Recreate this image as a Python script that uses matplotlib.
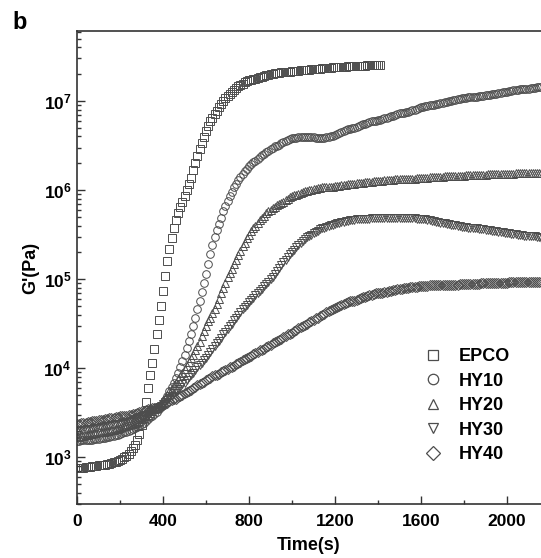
import numpy as np
import matplotlib
matplotlib.use("Agg")
import matplotlib.pyplot as plt
from matplotlib.ticker import LogLocator, FixedLocator, NullFormatter, FuncFormatter
from matplotlib.lines import Line2D

plt.rcParams['font.family'] = ['Liberation Sans', 'DejaVu Sans']
plt.rcParams['mathtext.fontset'] = 'custom'
plt.rcParams['mathtext.rm'] = 'Liberation Sans:bold'
plt.rcParams['mathtext.bf'] = 'Liberation Sans:bold'

# sampling times (s), one point every 10 s
time_epco = list(range(0, 1420, 10))
time_hy = list(range(0, 2170, 10))

# log10 of G' (Pa)
epco_log = [
    2.88, 2.88, 2.88, 2.88, 2.89, 2.89, 2.89, 2.90, 2.90, 2.90, 2.91,
    2.91, 2.92, 2.92, 2.93, 2.93, 2.94, 2.95, 2.95, 2.96, 2.97,
    2.98, 3.00, 3.02, 3.04, 3.07, 3.10, 3.14, 3.19, 3.26, 3.36,
    3.48, 3.62, 3.78, 3.93, 4.06, 4.22, 4.38, 4.54, 4.70, 4.87,
    5.04, 5.20, 5.34, 5.46, 5.57, 5.66, 5.74, 5.81, 5.87, 5.93,
    6.00, 6.07, 6.14, 6.22, 6.30, 6.38, 6.46, 6.53, 6.60, 6.66,
    6.72, 6.77, 6.81, 6.85, 6.89, 6.93, 6.97, 7.00, 7.03, 7.06,
    7.08, 7.10, 7.12, 7.15, 7.17, 7.18, 7.19, 7.21, 7.22, 7.23,
    7.24, 7.25, 7.25, 7.26, 7.27, 7.27, 7.28, 7.29, 7.29, 7.30,
    7.30, 7.31, 7.31, 7.31, 7.32, 7.32, 7.32, 7.33, 7.33, 7.34,
    7.34, 7.34, 7.34, 7.35, 7.35, 7.35, 7.35, 7.35, 7.36, 7.36,
    7.36, 7.36, 7.36, 7.37, 7.37, 7.37, 7.37, 7.37, 7.38, 7.38,
    7.38, 7.38, 7.38, 7.38, 7.38, 7.39, 7.39, 7.39, 7.39, 7.39,
    7.39, 7.39, 7.39, 7.39, 7.40, 7.40, 7.40, 7.40, 7.40, 7.40, 7.40,
]

hy10_log = [
    3.18, 3.18, 3.19, 3.19, 3.19, 3.20, 3.20, 3.20, 3.21, 3.21, 3.21,
    3.22, 3.22, 3.22, 3.23, 3.23, 3.24, 3.24, 3.25, 3.25, 3.26,
    3.27, 3.28, 3.29, 3.30, 3.31, 3.32, 3.33, 3.34, 3.35, 3.37,
    3.39, 3.41, 3.43, 3.45, 3.47, 3.49, 3.51, 3.54, 3.57, 3.60,
    3.64, 3.69, 3.74, 3.79, 3.84, 3.89, 3.95, 4.01, 4.08, 4.15,
    4.23, 4.31, 4.39, 4.48, 4.57, 4.66, 4.76, 4.86, 4.96, 5.06,
    5.17, 5.28, 5.38, 5.47, 5.55, 5.62, 5.69, 5.76, 5.82, 5.88,
    5.93, 5.98, 6.03, 6.07, 6.11, 6.15, 6.18, 6.21, 6.24, 6.27,
    6.29, 6.31, 6.33, 6.35, 6.37, 6.39, 6.41, 6.43, 6.44, 6.46,
    6.47, 6.49, 6.50, 6.51, 6.53, 6.54, 6.55, 6.56, 6.57, 6.58,
    6.59, 6.59, 6.60, 6.60, 6.60, 6.60, 6.60, 6.60, 6.60, 6.60,
    6.59, 6.59, 6.59, 6.59, 6.59, 6.60, 6.60, 6.61, 6.61, 6.62,
    6.63, 6.64, 6.65, 6.66, 6.67, 6.68, 6.69, 6.70, 6.70, 6.71,
    6.72, 6.73, 6.74, 6.74, 6.75, 6.76, 6.77, 6.77, 6.78, 6.79,
    6.79, 6.80, 6.81, 6.81, 6.82, 6.83, 6.83, 6.84, 6.85, 6.86,
    6.86, 6.87, 6.88, 6.88, 6.89, 6.90, 6.90, 6.91, 6.92, 6.93,
    6.93, 6.94, 6.94, 6.95, 6.96, 6.96, 6.97, 6.97, 6.98, 6.98,
    6.99, 6.99, 7.00, 7.00, 7.01, 7.01, 7.02, 7.02, 7.03, 7.03,
    7.03, 7.04, 7.04, 7.05, 7.05, 7.05, 7.06, 7.06, 7.06, 7.07,
    7.07, 7.07, 7.08, 7.08, 7.08, 7.09, 7.09, 7.10, 7.10, 7.10,
    7.11, 7.11, 7.12, 7.12, 7.12, 7.13, 7.13, 7.14, 7.14, 7.14,
    7.15, 7.15, 7.15, 7.16, 7.16, 7.16,
]

hy20_log = [
    3.23, 3.23, 3.24, 3.24, 3.25, 3.25, 3.26, 3.26, 3.27, 3.27, 3.28,
    3.28, 3.29, 3.29, 3.30, 3.30, 3.31, 3.31, 3.32, 3.32, 3.33,
    3.34, 3.35, 3.35, 3.36, 3.37, 3.38, 3.39, 3.40, 3.41, 3.43,
    3.44, 3.46, 3.48, 3.50, 3.52, 3.54, 3.56, 3.58, 3.61, 3.64,
    3.67, 3.70, 3.74, 3.77, 3.81, 3.84, 3.88, 3.91, 3.95, 3.99,
    4.03, 4.07, 4.11, 4.15, 4.20, 4.25, 4.30, 4.36, 4.42, 4.48,
    4.53, 4.57, 4.62, 4.67, 4.72, 4.78, 4.84, 4.90, 4.96, 5.02,
    5.07, 5.12, 5.17, 5.22, 5.27, 5.32, 5.37, 5.41, 5.46, 5.50,
    5.54, 5.57, 5.60, 5.63, 5.66, 5.69, 5.71, 5.74, 5.76, 5.78,
    5.80, 5.81, 5.83, 5.84, 5.86, 5.87, 5.89, 5.90, 5.92, 5.93,
    5.94, 5.95, 5.96, 5.97, 5.98, 5.99, 5.99, 6.00, 6.00, 6.01,
    6.01, 6.02, 6.02, 6.03, 6.03, 6.03, 6.04, 6.04, 6.04, 6.05,
    6.05, 6.05, 6.06, 6.06, 6.06, 6.07, 6.07, 6.07, 6.07, 6.08,
    6.08, 6.08, 6.08, 6.09, 6.09, 6.09, 6.09, 6.10, 6.10, 6.10,
    6.10, 6.10, 6.11, 6.11, 6.11, 6.11, 6.11, 6.12, 6.12, 6.12,
    6.12, 6.12, 6.13, 6.13, 6.13, 6.13, 6.13, 6.14, 6.14, 6.14,
    6.14, 6.14, 6.14, 6.15, 6.15, 6.15, 6.15, 6.15, 6.15, 6.15,
    6.16, 6.16, 6.16, 6.16, 6.16, 6.16, 6.16, 6.16, 6.16, 6.16,
    6.17, 6.17, 6.17, 6.17, 6.17, 6.17, 6.17, 6.17, 6.17, 6.17,
    6.18, 6.18, 6.18, 6.18, 6.18, 6.18, 6.18, 6.18, 6.18, 6.18,
    6.18, 6.18, 6.18, 6.19, 6.19, 6.19, 6.19, 6.19, 6.19, 6.19,
    6.19, 6.19, 6.19, 6.19, 6.19, 6.19,
]

hy30_log = [
    3.30, 3.30, 3.31, 3.31, 3.31, 3.32, 3.32, 3.32, 3.33, 3.33, 3.33,
    3.34, 3.34, 3.35, 3.35, 3.35, 3.36, 3.36, 3.37, 3.37, 3.38,
    3.38, 3.39, 3.40, 3.40, 3.41, 3.42, 3.43, 3.44, 3.45, 3.46,
    3.47, 3.48, 3.49, 3.51, 3.52, 3.53, 3.55, 3.57, 3.58, 3.60,
    3.62, 3.64, 3.67, 3.69, 3.72, 3.74, 3.77, 3.79, 3.82, 3.84,
    3.87, 3.90, 3.92, 3.95, 3.98, 4.01, 4.04, 4.06, 4.09, 4.12,
    4.15, 4.18, 4.22, 4.25, 4.28, 4.31, 4.34, 4.38, 4.41, 4.44,
    4.47, 4.50, 4.54, 4.57, 4.60, 4.63, 4.66, 4.69, 4.71, 4.74,
    4.77, 4.79, 4.82, 4.84, 4.87, 4.89, 4.92, 4.95, 4.97, 5.00,
    5.03, 5.06, 5.09, 5.13, 5.16, 5.19, 5.22, 5.25, 5.28, 5.31,
    5.33, 5.36, 5.38, 5.41, 5.43, 5.45, 5.47, 5.49, 5.50, 5.52,
    5.53, 5.54, 5.56, 5.57, 5.58, 5.59, 5.60, 5.61, 5.61, 5.62,
    5.63, 5.63, 5.64, 5.64, 5.65, 5.65, 5.66, 5.66, 5.66, 5.67,
    5.67, 5.67, 5.68, 5.68, 5.68, 5.68, 5.69, 5.69, 5.69, 5.69,
    5.69, 5.69, 5.69, 5.69, 5.69, 5.69, 5.69, 5.69, 5.69, 5.69,
    5.69, 5.69, 5.69, 5.69, 5.69, 5.69, 5.69, 5.68, 5.68, 5.68,
    5.67, 5.67, 5.66, 5.66, 5.65, 5.65, 5.64, 5.64, 5.63, 5.63,
    5.63, 5.62, 5.62, 5.61, 5.61, 5.61, 5.60, 5.60, 5.59, 5.59,
    5.59, 5.58, 5.58, 5.58, 5.57, 5.57, 5.56, 5.56, 5.56, 5.55,
    5.55, 5.55, 5.54, 5.54, 5.54, 5.53, 5.53, 5.53, 5.52, 5.52,
    5.52, 5.51, 5.51, 5.51, 5.50, 5.50, 5.50, 5.49, 5.49, 5.49,
    5.48, 5.48, 5.48, 5.47, 5.47, 5.46,
]

hy40_log = [
    3.38, 3.38, 3.39, 3.39, 3.39, 3.40, 3.40, 3.41, 3.41, 3.41, 3.42,
    3.42, 3.42, 3.43, 3.43, 3.44, 3.44, 3.44, 3.45, 3.45, 3.46,
    3.46, 3.47, 3.47, 3.48, 3.48, 3.49, 3.49, 3.50, 3.51, 3.52,
    3.52, 3.53, 3.54, 3.54, 3.55, 3.56, 3.56, 3.57, 3.58, 3.59,
    3.60, 3.61, 3.63, 3.64, 3.65, 3.66, 3.68, 3.69, 3.70, 3.72,
    3.73, 3.75, 3.76, 3.78, 3.79, 3.81, 3.82, 3.84, 3.85, 3.87,
    3.88, 3.89, 3.91, 3.92, 3.93, 3.94, 3.96, 3.97, 3.98, 3.99,
    4.01, 4.02, 4.03, 4.05, 4.06, 4.07, 4.09, 4.10, 4.12, 4.13,
    4.14, 4.16, 4.17, 4.18, 4.20, 4.21, 4.22, 4.24, 4.25, 4.26,
    4.28, 4.29, 4.31, 4.32, 4.33, 4.35, 4.36, 4.38, 4.39, 4.40,
    4.42, 4.43, 4.45, 4.46, 4.47, 4.49, 4.50, 4.52, 4.53, 4.54,
    4.56, 4.57, 4.59, 4.60, 4.61, 4.63, 4.64, 4.65, 4.67, 4.68,
    4.69, 4.70, 4.71, 4.72, 4.73, 4.74, 4.75, 4.76, 4.76, 4.77,
    4.78, 4.79, 4.80, 4.80, 4.81, 4.82, 4.82, 4.83, 4.84, 4.84,
    4.85, 4.85, 4.86, 4.86, 4.87, 4.87, 4.88, 4.88, 4.89, 4.89,
    4.89, 4.90, 4.90, 4.90, 4.91, 4.91, 4.91, 4.91, 4.92, 4.92,
    4.92, 4.92, 4.92, 4.93, 4.93, 4.93, 4.93, 4.93, 4.93, 4.94,
    4.94, 4.94, 4.94, 4.94, 4.94, 4.94, 4.94, 4.95, 4.95, 4.95,
    4.95, 4.95, 4.95, 4.95, 4.95, 4.95, 4.95, 4.96, 4.96, 4.96,
    4.96, 4.96, 4.96, 4.96, 4.96, 4.96, 4.96, 4.96, 4.96, 4.96,
    4.97, 4.97, 4.97, 4.97, 4.97, 4.97, 4.97, 4.97, 4.97, 4.97,
    4.97, 4.97, 4.97, 4.97, 4.97, 4.97,
]

labels = ["EPCO", "HY10", "HY20", "HY30", "HY40"]
markers = ["s", "o", "^", "v", "D"]
xticks = [0, 400, 800, 1200, 1600, 2000]

series = [
    (time_epco, epco_log),
    (time_hy, hy10_log),
    (time_hy, hy20_log),
    (time_hy, hy30_log),
    (time_hy, hy40_log),
]

fig = plt.figure(figsize=(5.41, 5.58), dpi=100)
ax = fig.add_axes([77 / 541, 54 / 558, 464 / 541, 473 / 558])

edge = "0.3"
for (t, lg), lab, mk in zip(series, labels, markers):
    ms = 5.5 if mk != "D" else 4.8
    ax.plot(t, 10 ** np.array(lg), linestyle="none", marker=mk,
            markersize=ms, markerfacecolor="none", markeredgecolor=edge,
            markeredgewidth=0.7, label=lab)

ax.set_yscale("log")
ax.set_xlim(0, 2158)
ax.set_ylim(300, 6.1e7)

ax.xaxis.set_major_locator(FixedLocator(xticks))
ax.xaxis.set_minor_locator(FixedLocator([200, 600, 1000, 1400, 1800]))
ax.yaxis.set_major_locator(LogLocator(base=10, numticks=20))
ax.yaxis.set_minor_locator(LogLocator(base=10, subs=np.arange(2, 10), numticks=50))
ax.yaxis.set_minor_formatter(NullFormatter())
ax.yaxis.set_major_formatter(FuncFormatter(
    lambda v, p: r"$\mathbf{10^{%d}}$" % int(round(np.log10(v)))))

for sp in ["left", "bottom", "top"]:
    ax.spines[sp].set_linewidth(1.2)
    ax.spines[sp].set_color("#333333")
ax.spines["right"].set_visible(False)

ax.tick_params(which="both", direction="in", colors="#333333", width=1.0,
               top=False, right=False, labelcolor="black")
ax.tick_params(which="major", length=5.5, labelsize=12.5, pad=4)
ax.tick_params(which="minor", length=3)
ax.tick_params(axis="x", which="major", pad=7)
for lab in ax.get_xticklabels():
    lab.set_fontweight("bold")

ax.set_xlabel("Time(s)", fontsize=13, fontweight="bold", labelpad=6)
ax.set_ylabel("G'(Pa)", fontsize=13, fontweight="bold", labelpad=3)

handles = [Line2D([], [], linestyle="none", marker=m, markersize=7.5,
                  markerfacecolor="none", markeredgecolor="0.3",
                  markeredgewidth=0.9) for m in markers]
leg = ax.legend(handles, labels, loc="upper left",
                bbox_to_anchor=(419 / 541, 1 - 348 / 558),
                bbox_transform=fig.transFigure, frameon=False,
                borderpad=0, borderaxespad=0, handlelength=1.5,
                handletextpad=0.7, labelspacing=0.42, numpoints=1,
                prop={"size": 13, "weight": "bold"})

fig.text(12 / 541, 1 - 11 / 558, "b", fontsize=17, fontweight="bold",
         va="top", ha="left")

fig.savefig("out.png", dpi=100)
